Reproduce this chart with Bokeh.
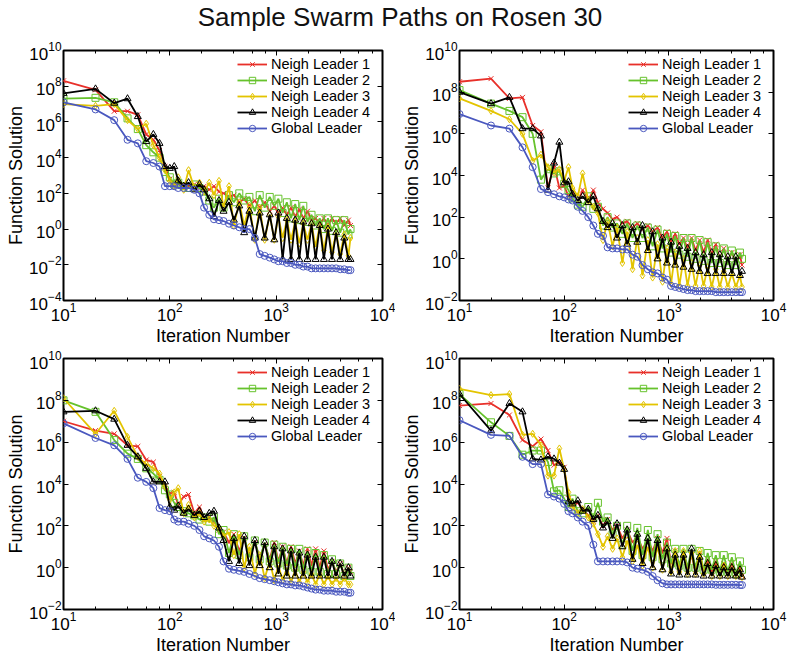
from bokeh.plotting import figure
from bokeh.models import (Range1d, LogAxis, FixedTicker, LogTicker, Legend,
                          LegendItem, Div, ColumnDataSource, CustomJSTickFormatter)
from bokeh.layouts import column, gridplot
from bokeh.embed import file_html
from bokeh.resources import INLINE

FONT = "Liberation Sans"
TITLE = "Sample Swarm Paths on Rosen 30"
NAMES = ["Neigh Leader 1", "Neigh Leader 2", "Neigh Leader 3", "Neigh Leader 4", "Global Leader"]
COLORS = ["#e8302a", "#66c22c", "#e3c400", "#000000", "#4a58bf"]
MARKERS = ["x", "square", "diamond", "triangle", "circle"]

# iteration numbers (shared by every series)
X = [10, 20, 30, 40, 50, 60, 70, 80, 90, 100,
     110, 120, 135, 150, 170, 190, 210, 235, 260, 290, 320, 360, 400, 450, 500, 560, 630, 700, 780, 870, 960,
     1050, 1150, 1260, 1380, 1510, 1650, 1800, 1970, 2150, 2350, 2570, 2810, 3070, 3350, 3660, 4000, 4370, 4780, 5000]

# function solution values, read as log10 from the picture
tl_n1 = [8.3, 7.8, 6.6, 6.6, 6.4, 5.3, 5.0, 4.4, 3.5, 2.8,
         2.6, 2.5, 2.5, 2.4, 2.5, 2.3, 2.4, 2.2, 2.4, 2.1, 2.0, 1.8, 1.9, 1.5, 1.7, 1.3, 1.6, 1.2, 1.5, 1.0, 1.3,
         0.9, 1.2, 0.8, 1.2, 0.7, 1.1, 0.6, 1.0, 0.5, 0.6, 0.3, 0.6, 0.2, 0.6, 0.3, 0.6, 0.2, 0.5, 0.2]
tl_n2 = [7.3, 7.35, 7.1, 6.2, 5.6, 4.7, 4.3, 4.0, 3.2, 2.9,
         2.5, 2.6, 2.4, 2.3, 2.5, 2.3, 2.1, 1.6, 1.2, 1.7, 1.2, 1.9, 1.5, 2.0, 1.6, 1.8, 1.0, 1.9, 1.2, 1.8, 1.3,
         1.7, 0.9, 1.5, 0.6, 1.4, 0.5, 1.3, 0.4, 0.8, 0.2, 0.6, 0.0, 0.6, -0.1, 0.5, -0.2, 0.5, -0.3, 0.0]
tl_n3 = [7.0, 6.9, 7.0, 6.1, 5.6, 5.9, 4.7, 4.0, 3.3, 2.7,
         2.4, 2.9, 2.2, 3.3, 2.3, 2.6, 2.1, 2.6, 1.9, 2.7, 1.2, 2.4, 0.2, 1.5, 0.2, 1.3, -0.6, 1.2, -0.6, 0.8, -0.6,
         0.7, -0.5, 0.5, -0.6, 0.4, -0.8, 0.3, -0.6, 0.3, -1.0, 0.2, -1.2, 0.1, -1.3, -0.2, -1.4, -0.3, -1.5, -0.5]
tl_n4 = [7.6, 7.85, 7.05, 7.3, 6.3, 4.9, 5.3, 4.8, 3.5, 3.4,
         3.5, 2.7, 2.4, 2.6, 2.2, 2.5, 2.2, 1.7, 0.7, 1.6, 1.0, 1.5, 0.5, 1.3, -0.2, 1.0, -0.5, 0.9, -0.5, 0.8, -0.6,
         0.9, -1.7, 0.6, -1.7, 0.5, -1.7, 0.4, -1.7, 0.3, -1.7, 0.2, -1.7, 0.0, -1.7, -0.2, -1.7, -0.5, -1.7, -1.7]
tl_g = [7.1, 6.7, 6.1, 5.0, 4.8, 3.8, 3.7, 3.5, 2.4, 2.4,
        2.4, 2.3, 2.3, 2.3, 2.2, 2.0, 1.2, 0.8, 0.55, 0.5, 0.45, 0.3, 0.2, 0.1, 0.0, 0.0, -0.5, -1.4, -1.5, -1.6, -1.7,
        -1.8, -1.8, -1.9, -1.9, -2.0, -2.0, -2.1, -2.1, -2.2, -2.2, -2.2, -2.2, -2.2, -2.2, -2.2, -2.25, -2.25, -2.3, -2.3]

tr_n1 = [8.5, 8.65, 7.7, 7.75, 6.4, 6.1, 3.4, 4.5, 3.4, 3.5,
         3.0, 3.2, 2.7, 3.3, 2.8, 3.3, 2.7, 2.4, 2.2, 1.9, 2.0, 1.7, 1.8, 1.5, 1.7, 1.4, 1.6, 1.3, 1.5, 1.0, 1.3,
         0.8, 1.2, 0.7, 1.0, 0.5, 1.0, 0.4, 0.9, 0.3, 0.9, 0.2, 0.7, 0.0, 0.5, -0.1, 0.3, -0.2, 0.2, -0.3]
tr_n2 = [8.1, 7.45, 7.1, 6.8, 6.0, 3.8, 4.3, 4.1, 4.2, 3.6,
         3.3, 2.9, 2.6, 2.5, 3.0, 2.4, 2.5, 1.6, 2.0, 1.5, 1.7, 1.2, 1.7, 1.0, 1.6, 1.0, 1.5, 0.6, 1.4, 0.5, 1.2,
         0.3, 1.1, 0.2, 1.0, 0.1, 1.0, 0.0, 0.9, -0.1, 0.8, -0.2, 0.6, -0.2, 0.5, -0.3, 0.4, -0.3, 0.3, 0.0]
tr_n3 = [7.7, 7.1, 6.7, 6.0, 4.7, 5.0, 4.4, 4.15, 4.3, 3.75,
         4.4, 3.4, 3.0, 4.1, 2.8, 2.5, 2.2, 0.9, 1.8, 0.6, 1.5, -0.2, 1.3, -0.5, 1.0, -0.8, 0.9, -0.9, 0.7, -1.1, 0.5,
         -1.2, 0.3, -1.3, 0.0, -1.3, -0.2, -1.3, -0.3, -1.3, -0.4, -1.35, -0.5, -1.35, -0.6, -1.35, -0.7, -1.35, -0.8, -1.35]
tr_n4 = [8.0, 7.45, 7.75, 6.25, 6.25, 5.9, 3.3, 4.6, 5.6, 3.65,
         3.7, 3.1, 2.8, 3.0, 2.7, 3.0, 2.4, 1.8, 1.5, 1.7, 1.0, 1.6, 0.7, 1.5, 0.8, 1.6, 0.4, 1.3, 0.0, 1.0, -0.2,
         0.8, -0.3, 0.6, -0.4, 0.5, -0.5, 0.3, -0.6, 0.2, -0.7, 0.3, -0.7, 0.2, -0.7, 0.1, -0.7, 0.1, -0.8, -0.6]
tr_g = [6.95, 6.4, 6.25, 5.35, 4.4, 3.35, 3.2, 3.1, 3.0, 2.95,
        2.85, 2.8, 2.5, 2.3, 2.0, 1.6, 1.2, 1.1, 0.55, 0.5, 0.5, 0.45, 0.45, 0.2, 0.1, -0.3, -0.5, -0.65, -0.7, -0.9, -1.0,
        -1.3, -1.35, -1.4, -1.45, -1.5, -1.5, -1.55, -1.55, -1.55, -1.55, -1.55, -1.6, -1.6, -1.6, -1.6, -1.6, -1.6, -1.6, -1.6]

bl_n1 = [7.0, 6.55, 6.4, 5.85, 5.8, 5.15, 5.05, 4.35, 3.9, 3.55,
         3.6, 3.0, 3.4, 3.5, 2.6, 2.9, 2.3, 2.4, 2.2, 1.8, 1.7, 1.2, 1.6, 0.8, 1.4, 0.6, 1.2, 0.5, 1.1, 0.4, 1.2,
         0.3, 1.0, 0.2, 1.0, 0.2, 0.8, 0.1, 0.9, 0.1, 0.9, 0.0, 0.8, -0.1, 0.3, -0.2, 0.2, -0.3, 0.0, -0.2]
bl_n2 = [8.0, 7.45, 6.1, 5.45, 5.2, 4.75, 4.5, 4.2, 3.7, 3.5,
         3.1, 2.9, 2.7, 2.6, 2.5, 2.3, 2.4, 2.2, 2.4, 1.6, 1.8, 0.7, 1.6, 0.6, 1.5, 0.5, 1.3, 0.4, 1.2, 0.3, 1.1,
         0.2, 1.0, 0.1, 0.9, 0.0, 0.9, -0.1, 0.8, -0.2, 0.7, -0.2, 0.6, -0.3, 0.4, -0.3, 0.2, -0.4, 0.0, -0.4]
bl_n3 = [8.1, 6.4, 7.5, 6.25, 5.3, 4.95, 4.75, 4.5, 3.9, 3.25,
         3.6, 3.8, 2.6, 3.0, 2.4, 2.6, 2.2, 2.3, 2.0, 1.9, 1.5, 1.7, 0.6, 1.6, 0.0, 1.0, -0.3, 0.6, -0.5, 0.3, -0.6,
         0.1, -0.6, 0.0, -0.7, -0.1, -0.7, -0.2, -0.7, -0.3, -0.8, -0.3, -0.8, -0.4, -0.8, -0.5, -0.8, -0.5, -0.8, -0.8]
bl_n4 = [7.45, 7.5, 7.1, 5.85, 5.3, 4.75, 4.1, 4.1, 4.1, 2.9,
         2.75, 2.95, 2.6, 2.8, 2.5, 2.7, 2.4, 2.6, 2.7, 1.9, 1.3, 0.3, 1.4, 0.2, 1.5, 0.1, 1.3, 0.1, 1.2, 0.0, 1.0,
         -0.3, 0.9, -0.4, 0.8, -0.4, 0.7, -0.4, 0.6, -0.4, 0.5, -0.4, 0.5, -0.4, 0.3, -0.4, 0.2, -0.4, 0.0, -0.4]
bl_g = [6.9, 6.2, 5.85, 5.2, 4.3, 4.1, 3.8, 2.85, 2.75, 2.7,
        2.3, 2.2, 2.2, 2.1, 2.0, 1.8, 1.5, 1.4, 1.3, 1.0, 0.3, -0.05, -0.1, -0.15, -0.2, -0.3, -0.4, -0.5, -0.55, -0.6, -0.65,
        -0.7, -0.75, -0.8, -0.8, -0.85, -0.85, -0.9, -0.95, -1.0, -1.05, -1.05, -1.1, -1.1, -1.1, -1.15, -1.15, -1.15, -1.2, -1.2]

br_n1 = [7.75, 7.85, 7.3, 6.1, 5.8, 6.15, 5.6, 4.9, 5.05, 4.8,
         3.3, 3.0, 3.1, 2.8, 2.5, 2.2, 2.5, 2.0, 2.3, 1.8, 2.0, 1.4, 1.8, 1.2, 1.5, 0.9, 1.3, 0.8, 1.4, 0.7, 1.4,
         0.2, 0.8, 0.0, 0.7, -0.1, 0.6, -0.1, 0.6, -0.2, 0.4, -0.2, 0.3, -0.3, 0.2, -0.3, 0.2, -0.3, 0.0, -0.4]
br_n2 = [8.3, 6.95, 6.3, 5.4, 5.6, 5.6, 5.05, 3.65, 3.7, 3.3,
         2.9, 3.3, 2.7, 2.6, 2.9, 2.4, 3.1, 2.2, 2.4, 1.6, 2.0, 1.1, 2.0, 0.8, 1.9, 0.6, 1.8, 0.5, 1.6, 0.4, 1.2,
         0.2, 0.9, 0.1, 0.9, 0.0, 0.9, 0.0, 0.8, -0.1, 0.7, -0.1, 0.6, -0.2, 0.6, -0.2, 0.5, -0.3, 0.3, -0.1]
br_n3 = [8.55, 8.25, 8.3, 6.35, 6.4, 5.85, 4.4, 4.4, 5.7, 4.7,
         3.6, 2.9, 2.6, 2.8, 2.4, 2.1, 1.6, 1.0, 1.5, 0.9, 1.4, 0.5, 1.3, 0.3, 1.1, 0.1, 1.0, 0.0, 1.0, -0.1, 0.9,
         -0.2, 0.8, -0.2, 0.8, -0.3, 0.7, -0.3, 0.8, -0.3, 0.2, -0.4, 0.1, -0.4, 0.1, -0.4, 0.0, -0.4, -0.1, -0.45]
br_n4 = [8.3, 6.55, 7.85, 7.45, 5.2, 5.15, 5.3, 5.2, 5.0, 4.7,
         3.15, 3.05, 3.2, 2.7, 2.8, 2.3, 2.5, 1.9, 2.2, 1.4, 2.1, 1.0, 1.8, 0.4, 1.6, 0.2, 1.4, 0.0, 1.3, -0.1, 0.9,
         -0.3, 0.6, -0.35, 0.6, -0.35, 0.9, -0.35, 0.5, -0.4, 0.2, -0.4, 0.1, -0.4, 0.0, -0.4, 0.0, -0.4, -0.1, -0.45]
br_g = [7.05, 6.35, 6.3, 5.3, 4.95, 4.95, 3.5, 3.4, 3.3, 3.05,
        2.7, 2.6, 2.4, 2.2, 2.0, 1.1, 0.3, 0.3, 0.3, 0.3, 0.3, 0.3, 0.25, 0.0, -0.05, -0.1, -0.2, -0.4, -0.6, -0.75, -0.8,
        -0.8, -0.8, -0.8, -0.8, -0.8, -0.8, -0.8, -0.8, -0.8, -0.8, -0.8, -0.82, -0.82, -0.82, -0.82, -0.82, -0.82, -0.83, -0.83]


def style_axis(ax, ticker, hide_labels=False):
    ax.ticker = ticker
    ax.axis_line_color = None
    ax.major_tick_in = 5
    ax.major_tick_out = 0
    ax.minor_tick_in = 3
    ax.minor_tick_out = 0
    ax.major_tick_line_color = "black"
    ax.minor_tick_line_color = "black"
    ax.major_label_text_font = FONT
    ax.major_label_text_color = "black"
    if hide_labels:
        ax.formatter = CustomJSTickFormatter(code="return ''")
        ax.major_label_text_font_size = "2px"
        ax.major_label_standoff = 0
    else:
        ax.major_label_text_font_size = "17px"
        ax.major_label_standoff = 2


def panel(series, ymin, w, h, bl, br, bt, bb):
    p = figure(width=w, height=h, x_axis_type="log", y_axis_type="log",
               x_range=Range1d(10, 1e4), y_range=Range1d(10.0 ** ymin, 1e10),
               output_backend="svg", toolbar_location=None,
               min_border_left=bl, min_border_right=br, min_border_top=bt, min_border_bottom=bb)
    p.xgrid.visible = False
    p.ygrid.visible = False
    p.outline_line_color = "black"
    p.outline_line_width = 2
    p.background_fill_color = "white"
    p.border_fill_color = "white"

    yt = [10.0 ** e for e in range(ymin, 11, 2)]
    style_axis(p.xaxis[0], LogTicker())
    style_axis(p.yaxis[0], FixedTicker(ticks=yt, minor_ticks=[]))
    for ax in (p.xaxis[0], p.yaxis[0]):
        ax.axis_label_text_font = FONT
        ax.axis_label_text_font_size = "18px"
        ax.axis_label_text_font_style = "normal"
        ax.axis_label_text_color = "black"
    p.xaxis[0].axis_label = "Iteration Number"
    p.xaxis[0].axis_label_standoff = 2
    p.yaxis[0].axis_label = "Function Solution"
    p.yaxis[0].axis_label_standoff = 0

    top = LogAxis()
    style_axis(top, LogTicker(), hide_labels=True)
    p.add_layout(top, "above")
    right = LogAxis()
    style_axis(right, FixedTicker(ticks=yt, minor_ticks=[]), hide_labels=True)
    p.add_layout(right, "right")

    items = []
    for vals, name, col, mk in zip(series, NAMES, COLORS, MARKERS):
        src = ColumnDataSource(dict(x=X, y=[10.0 ** v for v in vals]))
        rl = p.line("x", "y", source=src, line_color=col, line_width=1.8)
        rm = p.scatter("x", "y", source=src, marker=mk, size=7, line_color=col,
                       fill_color=None, line_width=1)
        items.append(LegendItem(label=name, renderers=[rl, rm]))
    leg = Legend(items=items, location="top_right", border_line_color=None,
                 background_fill_alpha=0, label_text_font=FONT, label_text_font_size="14.5px",
                 label_text_color="black", glyph_width=30, glyph_height=16, label_height=16,
                 label_width=105, spacing=0, padding=2, margin=6, label_standoff=4)
    p.add_layout(leg)
    return p


p1 = panel([tl_n1, tl_n2, tl_n3, tl_n4, tl_g], -4, 395, 315, 63, 13, 15, 48)
p2 = panel([tr_n1, tr_n2, tr_n3, tr_n4, tr_g], -2, 405, 315, 63, 27, 13, 50)
p3 = panel([bl_n1, bl_n2, bl_n3, bl_n4, bl_g], -2, 395, 307, 63, 13, 8, 48)
p4 = panel([br_n1, br_n2, br_n3, br_n4, br_g], -2, 405, 307, 64, 22, 8, 48)

title = Div(text=TITLE, width=800, height=35, margin=(0, 0, 0, 0),
            styles={"font-family": FONT, "font-size": "26px", "text-align": "center",
                    "width": "800px", "line-height": "35px", "color": "#111111"})

grid = gridplot([[p1, p2], [p3, p4]], toolbar_location=None)
layout = column(title, grid, spacing=0)

open("out.html", "w").write(file_html(layout, INLINE))
